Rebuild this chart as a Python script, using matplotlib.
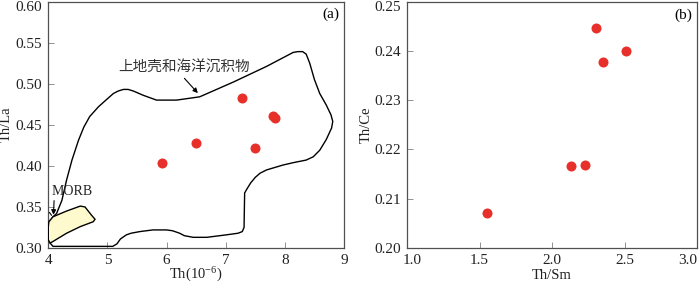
import matplotlib
matplotlib.use("Agg")
import matplotlib.pyplot as plt
from matplotlib.transforms import ScaledTranslation

plt.rcParams['font.family'] = ['Liberation Serif', 'DejaVu Serif']
plt.rcParams['mathtext.fontset'] = 'custom'
plt.rcParams['mathtext.rm'] = 'Liberation Serif'
plt.rcParams['mathtext.it'] = 'Liberation Serif:italic'

# ---- data ----
th = [5.93, 6.49, 7.27, 7.49, 7.80, 7.83]
th_la = [0.403, 0.428, 0.482, 0.422, 0.461, 0.458]

th_sm = [1.55, 2.132, 2.229, 2.305, 2.350, 2.507]
th_ce = [0.2070, 0.2167, 0.2169, 0.2446, 0.2377, 0.2400]

crust_x = [4.08, 4.14, 4.23, 4.31, 4.40, 4.51, 4.60, 4.70, 4.85, 4.99, 5.10, 5.18, 5.27, 5.35, 5.44,
           5.60, 5.83, 6.17, 6.56, 7.13, 7.69, 8.14, 8.22, 8.30, 8.36, 8.42, 8.50, 8.59, 8.70, 8.78, 8.81,
           8.79, 8.70, 8.59, 8.48, 8.36, 8.15, 7.97, 7.69, 7.58, 7.50, 7.42, 7.36, 7.32, 7.31, 7.28, 7.21,
           7.01, 6.68, 6.45, 6.30, 6.22, 6.10, 6.00, 5.77, 5.55, 5.40, 5.32, 5.22, 5.16, 5.09, 5.04,
           4.14, 4.08, 4.03, 4.01, 4.02]
crust_y = [0.338, 0.342, 0.358, 0.383, 0.407, 0.431, 0.447, 0.460, 0.472, 0.481, 0.488, 0.491, 0.493, 0.493, 0.491,
           0.486, 0.480, 0.480, 0.484, 0.502, 0.521, 0.538, 0.539, 0.539, 0.536, 0.525, 0.505, 0.488, 0.474, 0.462, 0.454,
           0.446, 0.432, 0.419, 0.411, 0.407, 0.404, 0.401, 0.395, 0.391, 0.386, 0.379, 0.372, 0.367, 0.325, 0.320, 0.318,
           0.316, 0.313, 0.313, 0.315, 0.318, 0.321, 0.322, 0.322, 0.320, 0.318, 0.316, 0.311, 0.305, 0.302, 0.302,
           0.302, 0.302, 0.306, 0.322, 0.332]

morb_x = [4.01, 4.08, 4.31, 4.54, 4.62, 4.73, 4.79, 4.76, 4.54, 4.31, 4.08, 4.03, 4.00, 4.00]
morb_y = [0.332, 0.338, 0.345, 0.351, 0.350, 0.340, 0.335, 0.332, 0.326, 0.318, 0.308, 0.306, 0.310, 0.326]

xticks_a = [4, 5, 6, 7, 8, 9]
yticks_a = [0.30, 0.35, 0.40, 0.45, 0.50, 0.55, 0.60]
xticks_b = [1.0, 1.5, 2.0, 2.5, 3.0]
yticks_b = [0.20, 0.21, 0.22, 0.23, 0.24, 0.25]

W, H = 700, 285
fig = plt.figure(figsize=(7.0, 2.85), dpi=100)
ax1 = fig.add_axes([48.3 / W, (H - 248) / H, (344 - 48.3) / W, (248 - 1.5) / H])
ax2 = fig.add_axes([407 / W, (H - 248) / H, (697 - 407) / W, (248 - 1.5) / H])

red = '#e8302a'
frame_col = '#505050'
fs = 11
lfs = 10.5

for ax in (ax1, ax2):
    for sp in ax.spines.values():
        sp.set_color(frame_col)
        sp.set_linewidth(0.9)
    ax.tick_params(direction='in', length=4, width=0.6, color='#808080',
                   labelsize=fs, pad=4.5, top=False, right=False, labelcolor='#222222')

# panel a
ax1.fill(crust_x, crust_y, facecolor='none', edgecolor='black', linewidth=1.0, zorder=2)
ax1.fill(morb_x, morb_y, facecolor='#fffacd', edgecolor='black', linewidth=1.0, zorder=3)
ax1.scatter(th, th_la, s=52, color=red, zorder=4, linewidths=0)
ax1.set_xlim(4, 9)
ax1.set_ylim(0.30, 0.60)
ax1.set_xticks(xticks_a)
ax1.set_xticklabels([str(v) for v in xticks_a])
ax1.set_yticks(yticks_a)
ax1.set_yticklabels([f'{v:.2f}' for v in yticks_a])
ax1.set_xlabel(r'Th(10$^{-6}$)', fontsize=lfs, color='#222222')
ax1.set_ylabel('Th/La', fontsize=lfs, color='#222222')
ax1.xaxis.set_label_coords(0.5, -0.074)
ax1.yaxis.set_label_coords(-0.121, 0.5)
ax1.text(0.986, 0.949, '(a)', transform=ax1.transAxes, ha='right', va='center', fontsize=fs)
ax1.text(5.18, 0.519, '上地壳和海洋沉积物', family=['Noto Sans CJK SC'], fontsize=10.5,
         ha='left', va='center', color='#333333')
ax1.annotate('', xy=(6.56, 0.486), xytext=(6.27, 0.509),
             arrowprops=dict(arrowstyle='-|>', color='black', lw=0.8, mutation_scale=7))
ax1.text(4.06, 0.3685, 'MORB', fontsize=10, ha='left', va='center', color='#222222')
ax1.annotate('', xy=(4.085, 0.337), xytext=(4.10, 0.361),
             arrowprops=dict(arrowstyle='-|>', color='black', lw=0.8, mutation_scale=7))
ax1.annotate('', xy=(4.085, 0.337), xytext=(3.99, 0.346),
             arrowprops=dict(arrowstyle='-', color='black', lw=0.8), annotation_clip=False)

# panel b
ax2.scatter(th_sm, th_ce, s=52, color=red, zorder=4, linewidths=0)
ax2.set_xlim(1.0, 3.0)
ax2.set_ylim(0.20, 0.25)
ax2.set_xticks(xticks_b)
ax2.set_xticklabels([f'{v:.1f}' for v in xticks_b])
ax2.set_yticks(yticks_b)
ax2.set_yticklabels([f'{v:.2f}' for v in yticks_b])
ax2.set_xlabel('Th/Sm', fontsize=lfs, color='#222222')
ax2.set_ylabel('Th/Ce', fontsize=lfs, color='#222222')
ax2.xaxis.set_label_coords(0.5, -0.086)
ax2.yaxis.set_label_coords(-0.119, 0.5)
ax2.text(0.982, 0.945, '(b)', transform=ax2.transAxes, ha='right', va='center', fontsize=fs)

# nudge extreme tick labels as in the reference
for ax in (ax1, ax2):
    top = ax.get_yticklabels()[-1]
    top.set_transform(top.get_transform() + ScaledTranslation(0, -3.5 / 72, fig.dpi_scale_trans))
first = ax2.get_xticklabels()[0]
first.set_transform(first.get_transform() + ScaledTranslation(4 / 72, 0, fig.dpi_scale_trans))
last = ax2.get_xticklabels()[-1]
last.set_transform(last.get_transform() + ScaledTranslation(-7 / 72, 0, fig.dpi_scale_trans))

fig.savefig('out.png', dpi=100)
